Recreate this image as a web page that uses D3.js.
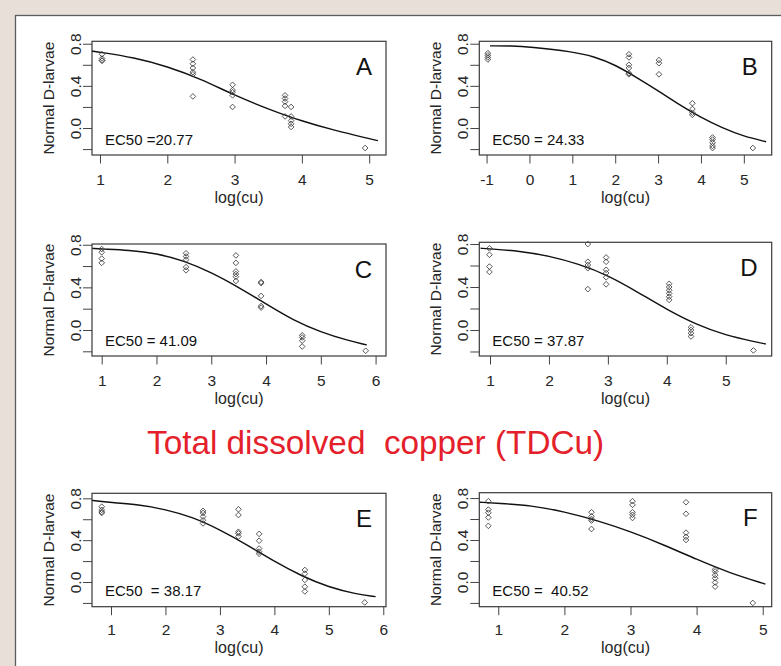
<!DOCTYPE html>
<html><head><meta charset="utf-8">
<script src="https://cdn.jsdelivr.net/npm/d3@7"></script>
<style>html,body{margin:0;padding:0;background:#e7dfd8;overflow:hidden} svg{display:block}</style>
</head><body>
<script>
// ---------------- DATA ----------------
const panelNames = ["A", "B", "C", "D", "E", "F"];
const ec50Labels = ["EC50 =20.77", "EC50 = 24.33", "EC50 = 41.09", "EC50 = 37.87", "EC50  = 38.17", "EC50 =  40.52"];
const titleText = "Total dissolved  copper (TDCu)";
const xAxisTitle = "log(cu)";
const yAxisTitle = "Normal D-larvae";
const yTickValues = [-0.2, 0, 0.2, 0.4, 0.6, 0.8];
const yTickLabelled = [0, 0.4, 0.8];

// observed points: dose (log cu) and the responses measured at each dose
const doseA = [1.03, 2.38, 2.97, 3.75, 3.84, 4.94];
const respA = [[0.70, 0.66, 0.64, 0.64], [0.65, 0.61, 0.57, 0.53, 0.51, 0.30], [0.41, 0.36, 0.34, 0.31, 0.20],
               [0.31, 0.28, 0.25, 0.21, 0.11], [0.20, 0.11, 0.07, 0.04, 0.01], [-0.19]];
const doseB = [-0.97, 2.32, 3.02, 3.80, 4.27, 5.21];
const respB = [[0.71, 0.69, 0.67, 0.65], [0.70, 0.67, 0.60, 0.57, 0.52, 0.51], [0.645, 0.615, 0.51],
               [0.235, 0.18, 0.145, 0.125], [-0.09, -0.11, -0.14, -0.17, -0.19], [-0.19]];
const doseC = [1.0, 2.54, 3.45, 3.91, 4.66, 5.82];
const respC = [[0.76, 0.73, 0.67, 0.63], [0.72, 0.69, 0.66, 0.59, 0.56], [0.70, 0.63, 0.55, 0.525, 0.50, 0.46],
               [0.45, 0.44, 0.32, 0.225, 0.21], [-0.05, -0.07, -0.10, -0.155], [-0.195]];
const doseD = [0.99, 2.66, 2.97, 4.04, 4.41, 5.47];
const respD = [[0.76, 0.70, 0.59, 0.54], [0.80, 0.635, 0.605, 0.575, 0.38], [0.675, 0.635, 0.56, 0.53, 0.49, 0.425],
               [0.43, 0.40, 0.37, 0.34, 0.31, 0.28], [0.025, 0.0, -0.03, -0.06], [-0.19]];
const doseE = [0.83, 2.69, 3.34, 3.72, 4.56, 5.66];
const respE = [[0.72, 0.69, 0.67, 0.66], [0.68, 0.66, 0.625, 0.59, 0.56], [0.695, 0.64, 0.48, 0.465, 0.435],
               [0.46, 0.395, 0.32, 0.29, 0.27], [0.115, 0.08, 0.02, -0.045, -0.09], [-0.195]];
const doseF = [0.85, 2.41, 3.03, 3.84, 4.28, 4.85];
const respF = [[0.77, 0.69, 0.66, 0.615, 0.535], [0.665, 0.625, 0.60, 0.585, 0.505], [0.77, 0.735, 0.665, 0.64, 0.61],
               [0.76, 0.65, 0.47, 0.43, 0.40], [0.12, 0.10, 0.065, 0.035, -0.005, -0.045], [-0.2]];

// fitted dose-response curves
const curveXA = [0.88, 1.0, 1.5, 2.0, 2.5, 3.0, 3.5, 4.0, 4.5, 5.0, 5.13];
const curveYA = [0.73, 0.72, 0.67, 0.585, 0.465, 0.31, 0.18, 0.065, -0.025, -0.10, -0.12];
const curveXB = [-0.92, -0.4, 0, 1.0, 1.5, 2.0, 2.5, 3.0, 3.5, 4.0, 4.5, 5.0, 5.52];
const curveYB = [0.78, 0.78, 0.77, 0.725, 0.68, 0.60, 0.48, 0.355, 0.22, 0.10, 0.0, -0.08, -0.13];
const curveXC = [0.83, 1.0, 1.5, 2.0, 2.5, 3.0, 3.5, 4.0, 4.5, 5.0, 5.5, 5.84];
const curveYC = [0.766, 0.76, 0.75, 0.72, 0.65, 0.54, 0.40, 0.245, 0.09, -0.02, -0.10, -0.14];
const curveXD = [0.84, 1.0, 1.5, 2.0, 2.5, 3.0, 3.5, 4.0, 4.5, 5.0, 5.5, 5.68];
const curveYD = [0.76, 0.755, 0.735, 0.69, 0.615, 0.51, 0.355, 0.19, 0.05, -0.05, -0.11, -0.13];
const curveXE = [0.65, 1.0, 1.5, 2.0, 2.5, 3.0, 3.5, 4.0, 4.5, 5.0, 5.5, 5.86];
const curveYE = [0.78, 0.76, 0.74, 0.695, 0.62, 0.50, 0.355, 0.195, 0.057, -0.05, -0.115, -0.14];
const curveXF = [0.72, 1.0, 1.5, 2.0, 2.5, 3.0, 3.5, 4.0, 4.5, 5.04];
const curveYF = [0.76, 0.75, 0.73, 0.67, 0.585, 0.48, 0.355, 0.215, 0.085, -0.02];

// ---------------- LAYOUT ----------------
const W = 781, H = 666;
const panels = [
  {dose: doseA, resp: respA, cx: curveXA, cy: curveYA, box: [92, 41.3, 386, 155], xd: [0.881, 5.25], yd: [-0.256, 0.823], tl: 29.5, xl: 47.5},
  {dose: doseB, resp: respB, cx: curveXB, cy: curveYB, box: [479.3, 41.3, 771.7, 155], xd: [-1.17, 5.65], yd: [-0.256, 0.823], tl: 29.5, xl: 47.5},
  {dose: doseC, resp: respC, cx: curveXC, cy: curveYC, box: [92, 244, 386, 356], xd: [0.823, 6.19], yd: [-0.244, 0.807], tl: 29.5, xl: 47.5},
  {dose: doseD, resp: respD, cx: curveXD, cy: curveYD, box: [479.3, 242.3, 771.7, 356], xd: [0.818, 5.78], yd: [-0.242, 0.816], tl: 29.5, xl: 47.5},
  {dose: doseE, resp: respE, cx: curveXE, cy: curveYE, box: [92, 493.3, 386, 606.7], xd: [0.651, 6.05], yd: [-0.236, 0.848], tl: 28.5, xl: 46.5},
  {dose: doseF, resp: respF, cx: curveXF, cy: curveYF, box: [479.3, 492.7, 771.7, 606.7], xd: [0.713, 5.136], yd: [-0.236, 0.851], tl: 28.5, xl: 46.5}
];
const FONT = "'Liberation Sans', Arial, Helvetica, sans-serif";
const ink = "#262626";

const svg = d3.select("body").append("svg").attr("width", W).attr("height", H)
  .style("font-family", FONT);

svg.append("rect").attr("width", W).attr("height", H).attr("fill", "#e7dfd8");
svg.append("rect").attr("x", 15.5).attr("y", 15.5).attr("width", W + 20).attr("height", H + 20)
  .attr("fill", "#ffffff").attr("stroke", "#5c5c5c").attr("stroke-width", 1.3);

svg.append("text").attr("x", 147).attr("y", 454).attr("font-size", 33.3)
  .attr("fill", "#e4202a").attr("xml:space", "preserve").style("white-space", "pre")
  .text(titleText);

const diamond = d3.symbol(d3.symbolSquare, 16);

panels.forEach((p, i) => {
  const [x0, y0, x1, y1] = p.box;
  const x = d3.scaleLinear().domain(p.xd).range([x0, x1]);
  const y = d3.scaleLinear().domain(p.yd).range([y1, y0]);
  const g = svg.append("g");

  // x axis
  const xt = d3.range(Math.ceil(p.xd[0]), Math.floor(p.xd[1]) + 1);
  const xa = g.append("g").attr("transform", `translate(0,${y1})`)
    .call(d3.axisBottom(x).tickValues(xt).tickSize(8.5).tickSizeOuter(0).tickPadding(0).tickFormat(d => String(d)));
  xa.select(".domain").remove();
  xa.selectAll(".tick line").attr("stroke", "#444").attr("stroke-width", 1);
  xa.selectAll(".tick text").attr("y", p.tl).attr("dy", null).attr("font-size", 15.5)
    .attr("fill", ink).style("font-family", FONT);

  // y axis
  const ya = g.append("g").attr("transform", `translate(${x0},0)`)
    .call(d3.axisLeft(y).tickValues(yTickValues).tickSize(9).tickSizeOuter(0)
      .tickFormat(d => yTickLabelled.some(v => Math.abs(v - d) < 1e-9) ? d3.format(".1f")(d) : ""));
  ya.select(".domain").remove();
  ya.selectAll(".tick line").attr("stroke", "#444").attr("stroke-width", 1);
  ya.selectAll(".tick text").attr("x", null).attr("dy", null).attr("y", null)
    .attr("transform", "translate(-11.5,0) rotate(-90)").attr("text-anchor", "middle")
    .attr("font-size", 15.5).attr("fill", ink).style("font-family", FONT);

  // box
  g.append("rect").attr("x", x0).attr("y", y0).attr("width", x1 - x0).attr("height", y1 - y0)
    .attr("fill", "none").attr("stroke", "#3a3a3a").attr("stroke-width", 1.2);

  // axis titles
  g.append("text").attr("x", (x0 + x1) / 2).attr("y", y1 + p.xl).attr("text-anchor", "middle")
    .attr("font-size", 16).attr("fill", ink).text(xAxisTitle);
  g.append("text").attr("transform", `translate(${x0 - 38},${(y0 + y1) / 2}) rotate(-90)`)
    .attr("text-anchor", "middle").attr("font-size", 15.5).attr("fill", ink).text(yAxisTitle);

  // curve
  const cpts = p.cx.map((v, k) => [v, p.cy[k]]);
  g.append("path").datum(cpts)
    .attr("d", d3.line().x(d => x(d[0])).y(d => y(d[1])).curve(d3.curveBasis))
    .attr("fill", "none").attr("stroke", "#111").attr("stroke-width", 1.4);

  // points
  const pts = [];
  p.dose.forEach((dv, k) => p.resp[k].forEach(r => pts.push([dv, r])));
  g.selectAll("path.pt").data(pts).enter().append("path").attr("class", "pt")
    .attr("d", diamond)
    .attr("transform", d => `translate(${x(d[0])},${y(d[1])}) rotate(45)`)
    .attr("fill", "none").attr("stroke", "#3a3a3a").attr("stroke-width", 0.8);

  // panel letter
  g.append("text").attr("x", x1 - 14).attr("y", y0 + 33.7).attr("text-anchor", "end")
    .attr("font-size", 24).attr("fill", "#111").text(panelNames[i]);

  // EC50 label
  g.append("text").attr("x", x0 + 13).attr("y", y1 - 10.5).attr("font-size", 15)
    .attr("fill", "#111").attr("xml:space", "preserve").style("white-space", "pre")
    .text(ec50Labels[i]);
});
</script>
</body></html>
